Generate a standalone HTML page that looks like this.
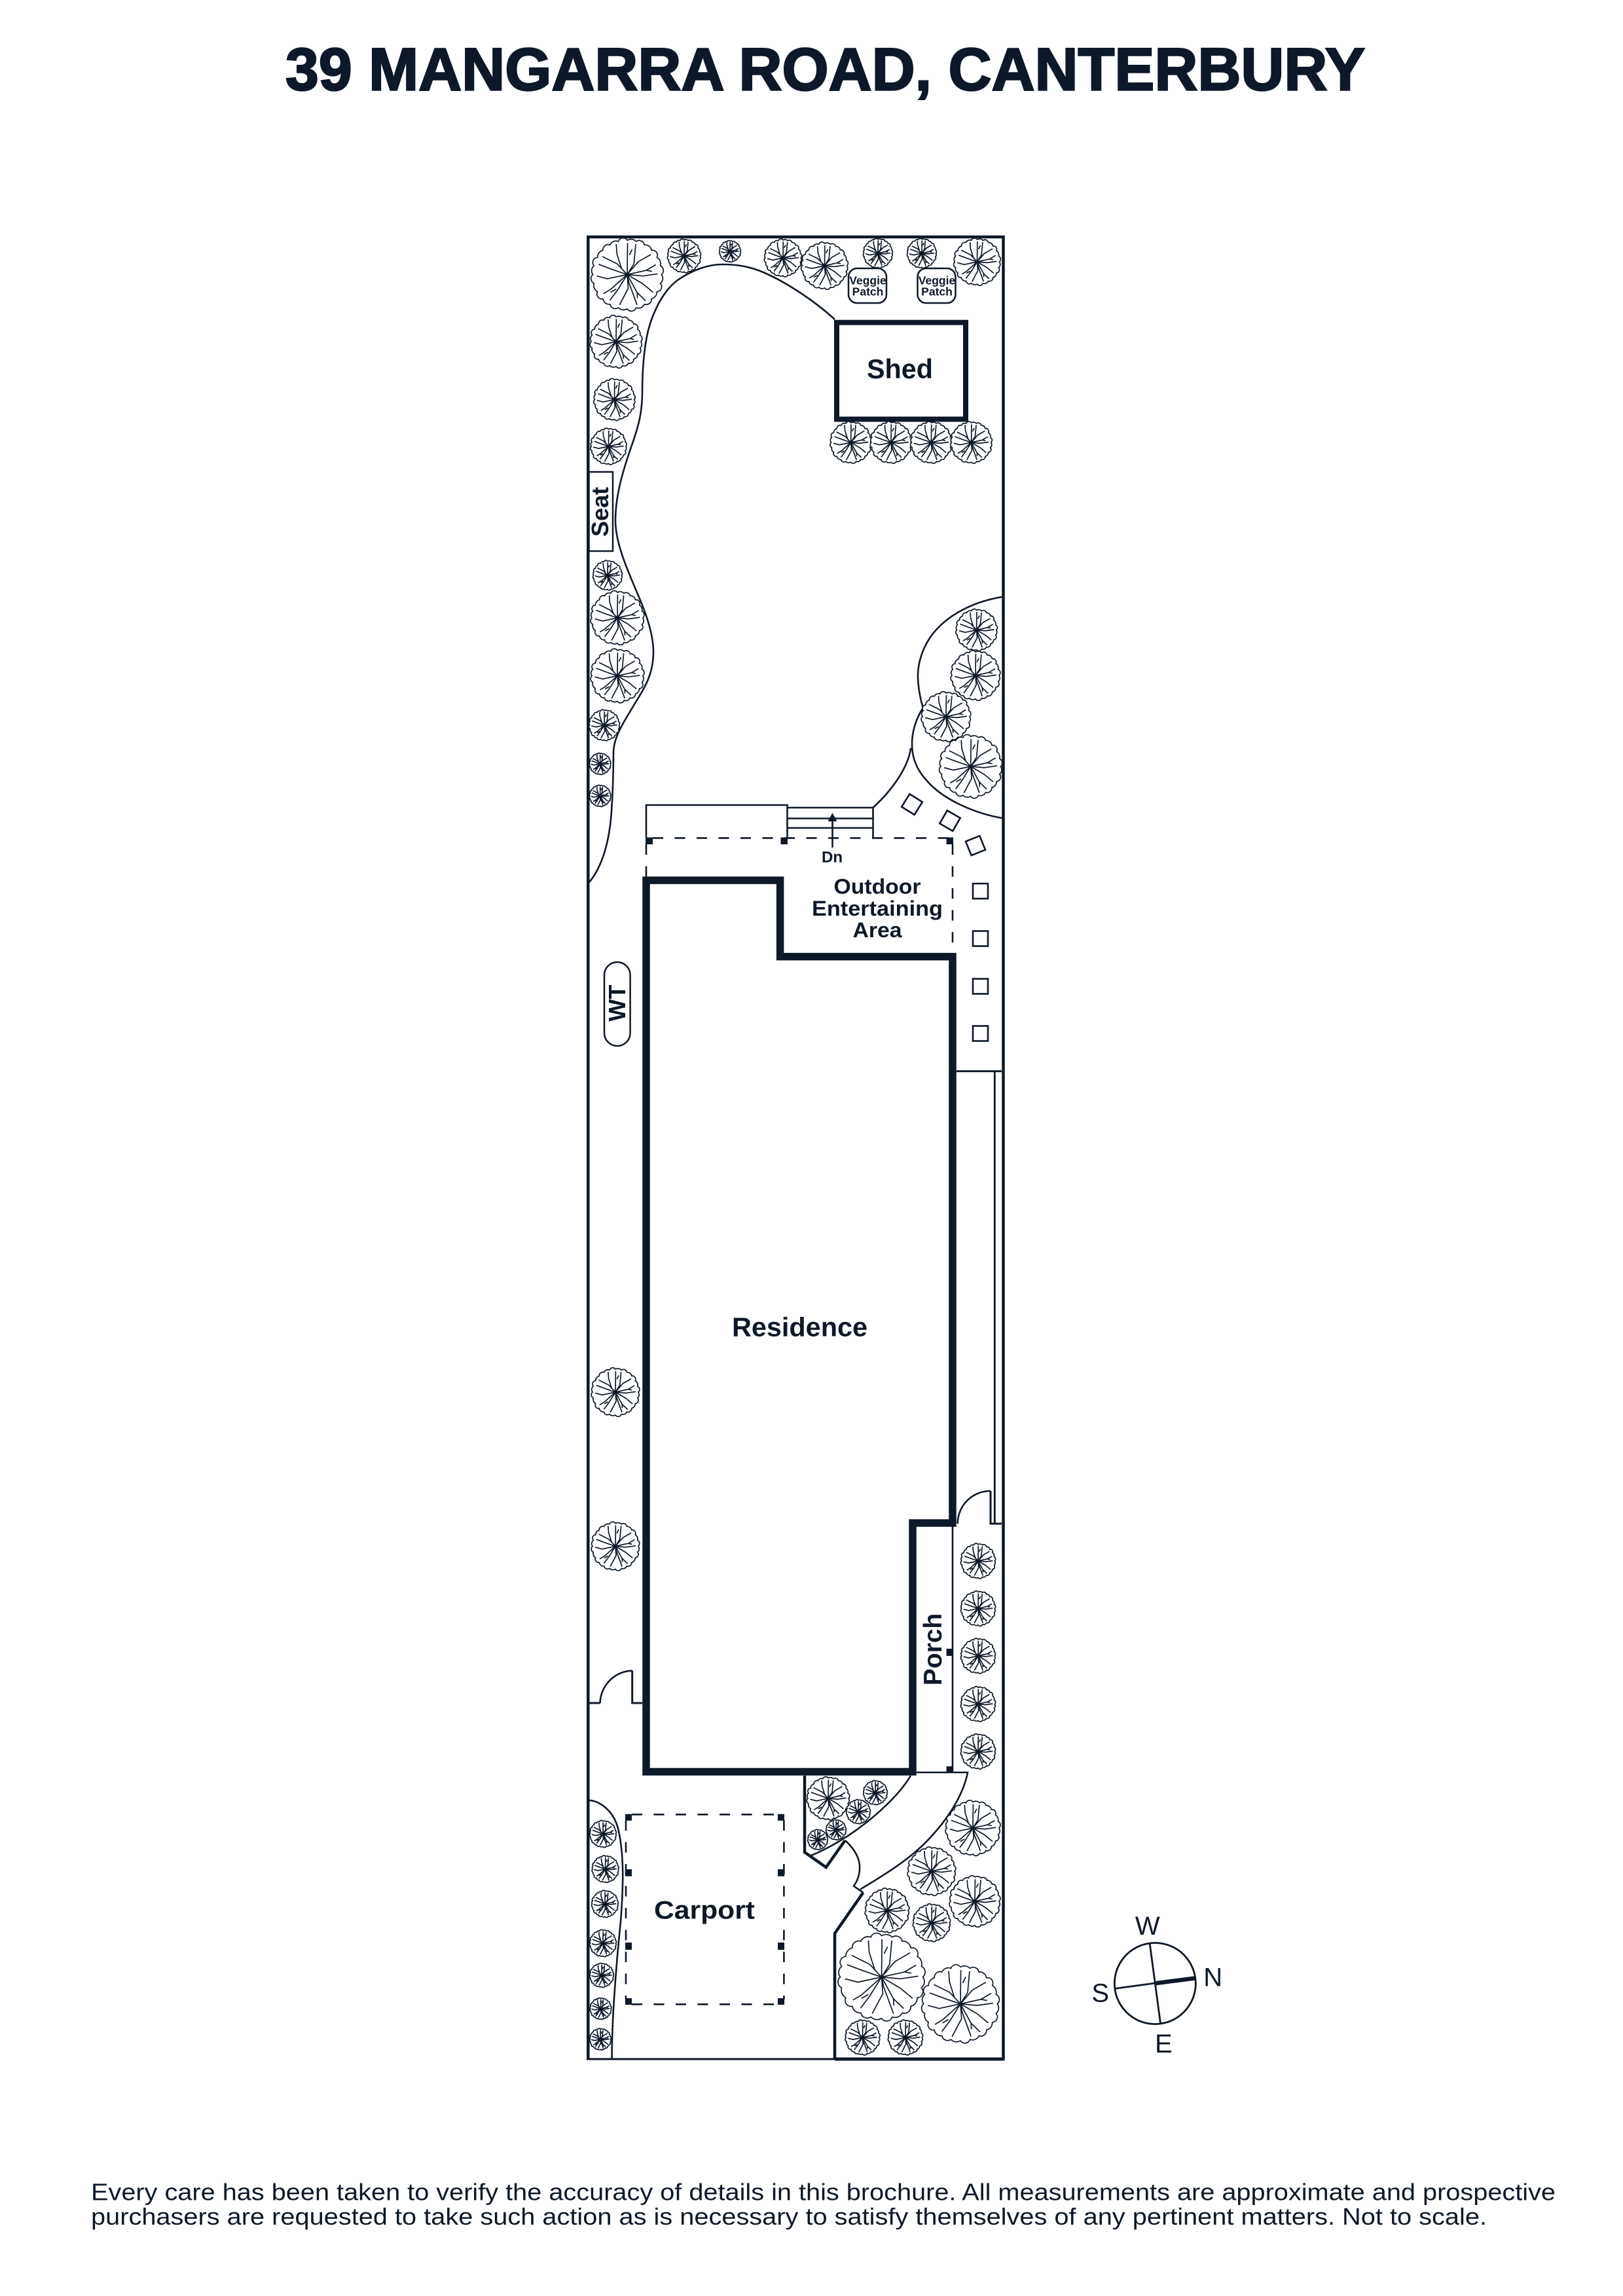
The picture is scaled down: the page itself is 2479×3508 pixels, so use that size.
<!DOCTYPE html>
<html><head><meta charset="utf-8"><style>
html,body{margin:0;padding:0;background:#fff}
svg{display:block}
text{font-family:"Liberation Sans",sans-serif;fill:#0d1828}
.b{font-weight:bold}
</style></head><body>
<svg xmlns="http://www.w3.org/2000/svg" width="2479" height="3508" viewBox="0 0 2479 3508">
<defs>
<g id="t" fill="none" stroke="#0d1828" stroke-width="1.7" stroke-linejoin="round" stroke-linecap="butt">
<path vector-effect="non-scaling-stroke" fill="#fff" d="M97 0A18 18 0 0 1 93.7 25.1A14 14 0 0 1 84 48.5A20 20 0 0 1 68.6 68.6A15 15 0 0 1 48.5 84A18 18 0 0 1 25.1 93.7A14 14 0 0 1 0 97A20 20 0 0 1 -25.1 93.7A15 15 0 0 1 -48.5 84A18 18 0 0 1 -68.6 68.6A14 14 0 0 1 -84 48.5A20 20 0 0 1 -93.7 25.1A15 15 0 0 1 -97 0A18 18 0 0 1 -93.7 -25.1A14 14 0 0 1 -84 -48.5A20 20 0 0 1 -68.6 -68.6A15 15 0 0 1 -48.5 -84A18 18 0 0 1 -25.1 -93.7A14 14 0 0 1 0 -97A20 20 0 0 1 25.1 -93.7A15 15 0 0 1 48.5 -84A18 18 0 0 1 68.6 -68.6A14 14 0 0 1 84 -48.5A20 20 0 0 1 93.7 -25.1A15 15 0 0 1 97 0Z"/>
<path vector-effect="non-scaling-stroke" d="M0 0L1 -89M0 0L19 -30L24 -86M6 -55L14 -71M0 0L-16 -17L-29 -58L-31 -86M0 0L-28 -30L-70 -51M0 0L-41 -14L-81 -29M0 0L-56 12L-86 4M0 0L-47 42L-67 54M0 0L-28 45L-49 73M-47 50L-31 41M0 0L3 39L-22 86M0 0L5 23L28 86M0 0L28 51L52 74M29 67L28 51M0 0L44 26L73 50M0 0L44 4L86 -2M0 0L54 -12L81 -28M54 -12L70 -9M0 0L31 -36L67 -57"/>
</g>
</defs>

<rect width="2479" height="3508" fill="#fff"/>

<text class="b" x="436" y="137.3" font-size="91.6" textLength="1649" lengthAdjust="spacingAndGlyphs" stroke="#0d1828" stroke-width="2.5">39 MANGARRA ROAD, CANTERBURY</text>

<g fill="none" stroke="#0d1828" stroke-linejoin="miter">
<!-- boundary -->
<path stroke-width="4.5" d="M898.3 3146V362H1532.5V3146"/>
<path stroke-width="5" d="M1275 3146H1534.5"/>
<path stroke-width="3" d="M896 3146H1275"/>

<!-- garden curves -->
<g stroke-width="2.6">
<path d="M1275 488C1250 465 1205 432 1161 414C1140 406 1122 404 1103 404C1080 404 1055 414 1035 428C1012 445 997 478 990 505C983 535 981 570 981 600C981 640 970 665 960 695C950 725 940 760 940 795C940 830 958 870 975 910C988 940 998 970 998 996C998 1030 985 1050 969 1076C955 1100 937 1125 937 1150C937 1180 936 1210 934 1240C931 1285 920 1325 899 1349"/>
<path d="M1531 912C1480 920 1440 945 1420 975C1405 998 1402 1020 1402 1032C1402 1050 1406 1070 1411 1085"/>
<path d="M1409 1083C1398 1100 1393 1120 1393 1137C1393 1160 1402 1178 1415 1192C1440 1222 1490 1243 1531 1250"/>
<path d="M1391 1143C1388 1170 1365 1205 1333.5 1234"/>
<path d="M899 2750.7C915 2751 935 2765 943 2790C950 2815 952 2850 951 2880C950 2930 945 2960 942 3000C938 3050 935 3090 934.5 3146"/>
<path d="M1400 2708H1478C1473 2735 1455 2770 1425 2803C1395 2838 1350 2865 1314 2886.7"/>
<path d="M1391 2713C1375 2740 1340 2775 1295 2805C1275 2818 1258 2827 1239 2835"/>
<path d="M1291 2812C1305 2825 1314 2840 1313 2855C1313 2865 1309 2875 1304 2881.7L1318.4 2891.7"/>
</g>
<path stroke-width="4.5" d="M1229 2713V2830L1261.7 2853L1290.7 2812"/>
<path stroke-width="4.5" d="M1318.4 2891.7L1275 2954V3146"/>

<!-- deck and steps -->
<g stroke-width="2.6">
<path d="M987 1280V1230H1202.5V1280"/>
<path d="M1202.5 1234H1333.5V1280M1202.5 1250.5H1333.5M1202.5 1265H1333.5"/>
<path d="M1271.5 1250V1295"/>
</g>
<path fill="#0d1828" stroke="none" d="M1271.5 1242L1264.5 1255H1278.5Z"/>

<!-- dashed roofs -->
<g stroke-width="2.6" stroke-dasharray="16 17.5">
<path d="M997 1280.4H1455"/>
<path d="M987 1290V1340"/>
<path d="M1455 1290V1456"/>
<path d="M965 2772.3H1197.4M965 3062.3H1197.4"/>
<path d="M956 2781V3055"/>
<path d="M1197.4 2781V3055"/>
</g>

<!-- residence -->
<path stroke-width="11.5" d="M987 1345H1191.6V1461.6H1455V2327H1394V2707H987Z"/>
<path stroke-width="2.6" d="M1455 2330V2708"/>

<!-- shed -->
<rect x="1278" y="492.7" width="197" height="147.8" stroke-width="8"/>

<!-- veggie -->
<rect x="1296" y="410" width="58" height="53" rx="13" stroke-width="2.5"/>
<rect x="1401.5" y="410" width="58" height="53" rx="13" stroke-width="2.5"/>

<!-- seat, WT -->
<rect x="899.5" y="721" width="36.5" height="121" stroke-width="2.5"/>
<rect x="923" y="1470" width="39.6" height="128" rx="19.8" stroke-width="2.5"/>

<!-- pavers -->
<g stroke-width="2.6">
<rect x="-11.5" y="-11.5" width="23" height="23" transform="translate(1393 1229) rotate(32)"/>
<rect x="-11.5" y="-11.5" width="23" height="23" transform="translate(1451 1254) rotate(30)"/>
<rect x="-11.5" y="-11.5" width="23" height="23" transform="translate(1490 1292) rotate(-22)"/>
<rect x="1486" y="1350" width="23" height="23"/>
<rect x="1486" y="1422.5" width="23" height="23"/>
<rect x="1486" y="1495.5" width="23" height="23"/>
<rect x="1486" y="1567.5" width="23" height="23"/>
</g>

<!-- side passage -->
<path stroke-width="2.8" d="M1461 1636.7H1530M1519.3 1636.7V2328"/>
<path stroke-width="2.6" d="M1462.6 2328C1463 2300 1485 2278 1513 2278"/>
<path stroke-width="3" d="M1513 2278V2328H1530"/>

<!-- left gate -->
<path stroke-width="3" d="M899 2602H916.6"/>
<path stroke-width="2.6" d="M916.6 2602C917 2575 940 2552.7 965.7 2552.7"/>
<path stroke-width="3" d="M965.7 2552.7V2602H981"/>

<!-- compass -->
<circle cx="1764.3" cy="3030.5" r="62" stroke-width="2.8"/>
<path stroke-width="2.8" d="M1756 2968.3L1772.7 3092.7M1703.3 3038.3L1764.3 3030"/>
<path stroke-width="6.5" d="M1764.3 3030.3L1826 3022.3"/>
</g>

<!-- columns -->
<g fill="#0d1828">
<rect x="986" y="1279.5" width="11" height="10.5"/>
<rect x="1192.5" y="1279.5" width="10.5" height="10.5"/>
<rect x="1445.6" y="1279.5" width="10.4" height="10.5"/>
<rect x="1445.6" y="2519" width="10" height="11"/>
<rect x="1445.6" y="2698.7" width="10" height="10"/>
<rect x="955" y="2771.7" width="10" height="10"/>
<rect x="1188" y="2771.7" width="10" height="10"/>
<rect x="955" y="2856" width="10" height="10.7"/>
<rect x="1188" y="2856" width="10" height="10.7"/>
<rect x="955" y="2968" width="10" height="11"/>
<rect x="1188" y="2968" width="10" height="11"/>
<rect x="955" y="3053" width="10" height="10"/>
<rect x="1188" y="3053" width="10" height="10"/>
</g>

<!-- trees -->
<use href="#t" transform="translate(958 419.5) scale(.54)"/>
<use href="#t" transform="translate(1045 391) scale(.25)"/>
<use href="#t" transform="translate(1115 384) scale(.16)"/>
<use href="#t" transform="translate(1196 394) scale(.28)"/>
<use href="#t" transform="translate(1259.5 406) scale(.35)"/>
<use href="#t" transform="translate(1341 387) scale(.22)"/>
<use href="#t" transform="translate(1408 387) scale(.22)"/>
<use href="#t" transform="translate(1492.5 400) scale(.35)"/>
<use href="#t" transform="translate(941 522) scale(.39)"/>
<use href="#t" transform="translate(938.5 610.5) scale(.31)"/>
<use href="#t" transform="translate(929.5 682) scale(.27)"/>
<use href="#t" transform="translate(928 879) scale(.22)"/>
<use href="#t" transform="translate(943 944) scale(.4)"/>
<use href="#t" transform="translate(943 1032.6) scale(.4)"/>
<use href="#t" transform="translate(923 1108) scale(.23)"/>
<use href="#t" transform="translate(916.6 1167) scale(.16)"/>
<use href="#t" transform="translate(916.6 1216) scale(.16)"/>
<use href="#t" transform="translate(1299.6 676) scale(.31)"/>
<use href="#t" transform="translate(1361 676) scale(.31)"/>
<use href="#t" transform="translate(1422.4 676) scale(.31)"/>
<use href="#t" transform="translate(1483.6 676) scale(.31)"/>
<use href="#t" transform="translate(1491.6 962.5) scale(.31)"/>
<use href="#t" transform="translate(1490 1032) scale(.37)"/>
<use href="#t" transform="translate(1445 1095) scale(.37)"/>
<use href="#t" transform="translate(1482.7 1171) scale(.47)"/>
<use href="#t" transform="translate(940 2127) scale(.36)"/>
<use href="#t" transform="translate(940 2362.5) scale(.36)"/>
<use href="#t" transform="translate(1494 2385) scale(.26)"/>
<use href="#t" transform="translate(1494 2457.6) scale(.26)"/>
<use href="#t" transform="translate(1494 2530) scale(.26)"/>
<use href="#t" transform="translate(1494 2603.6) scale(.26)"/>
<use href="#t" transform="translate(1494 2676) scale(.26)"/>
<use href="#t" transform="translate(1265 2747.7) scale(.32)"/>
<use href="#t" transform="translate(1337 2739) scale(.18)"/>
<use href="#t" transform="translate(1311 2768) scale(.18)"/>
<use href="#t" transform="translate(1277 2795.7) scale(.15)"/>
<use href="#t" transform="translate(1249 2810.7) scale(.15)"/>
<use href="#t" transform="translate(1486 2793) scale(.41)"/>
<use href="#t" transform="translate(1423 2859) scale(.36)"/>
<use href="#t" transform="translate(1489 2905) scale(.38)"/>
<use href="#t" transform="translate(1355 2919) scale(.33)"/>
<use href="#t" transform="translate(1423 2937.7) scale(.28)"/>
<use href="#t" transform="translate(1346.5 3020.7) scale(.65)"/>
<use href="#t" transform="translate(1467 3061.7) scale(.58)"/>
<use href="#t" transform="translate(1317.5 3113) scale(.26)"/>
<use href="#t" transform="translate(1383 3113) scale(.26)"/>
<use href="#t" transform="translate(921 2802) scale(.2)"/>
<use href="#t" transform="translate(924.6 2855.7) scale(.2)"/>
<use href="#t" transform="translate(924 2909) scale(.2)"/>
<use href="#t" transform="translate(921 2969) scale(.2)"/>
<use href="#t" transform="translate(919 3018) scale(.18)"/>
<use href="#t" transform="translate(917.5 3069) scale(.16)"/>
<use href="#t" transform="translate(917 3115.7) scale(.16)"/>

<!-- labels -->
<text class="b" x="1324" y="578" font-size="42" textLength="101" lengthAdjust="spacingAndGlyphs">Shed</text>
<text class="b" x="1325.5" y="434.6" font-size="17.5" text-anchor="middle">Veggie</text>
<text class="b" x="1325.5" y="451.6" font-size="17.5" text-anchor="middle">Patch</text>
<text class="b" x="1431" y="434.6" font-size="17.5" text-anchor="middle">Veggie</text>
<text class="b" x="1431" y="451.6" font-size="17.5" text-anchor="middle">Patch</text>
<text class="b" transform="translate(929 782) rotate(-90)" font-size="36" text-anchor="middle">Seat</text>
<text class="b" transform="translate(955 1532.6) rotate(-90)" font-size="36" text-anchor="middle">WT</text>
<text class="b" transform="translate(1438 2520) rotate(-90)" font-size="39" text-anchor="middle">Porch</text>
<text x="1271" y="1317.4" font-size="24" text-anchor="middle" font-weight="bold">Dn</text>
<text class="b" x="1273.5" y="1365.6" font-size="32" textLength="133" lengthAdjust="spacingAndGlyphs">Outdoor</text>
<text class="b" x="1240" y="1399" font-size="32" textLength="200" lengthAdjust="spacingAndGlyphs">Entertaining</text>
<text class="b" x="1302.5" y="1432" font-size="32" textLength="75" lengthAdjust="spacingAndGlyphs">Area</text>
<text class="b" x="1118" y="2041.7" font-size="41" textLength="207" lengthAdjust="spacingAndGlyphs">Residence</text>
<text class="b" x="999" y="2931.7" font-size="39" textLength="154" lengthAdjust="spacingAndGlyphs">Carport</text>

<text x="1752.7" y="2956" font-size="40" text-anchor="middle">W</text>
<text x="1852.7" y="3034.5" font-size="40" text-anchor="middle">N</text>
<text x="1680.7" y="3058.5" font-size="40" text-anchor="middle">S</text>
<text x="1777.3" y="3136" font-size="40" text-anchor="middle">E</text>

<text x="139" y="3361.7" font-size="36" textLength="2237" lengthAdjust="spacingAndGlyphs">Every care has been taken to verify the accuracy of details in this brochure. All measurements are approximate and prospective</text>
<text x="139" y="3399" font-size="36" textLength="2132" lengthAdjust="spacingAndGlyphs">purchasers are requested to take such action as is necessary to satisfy themselves of any pertinent matters. Not to scale.</text>
</svg>
</body></html>
